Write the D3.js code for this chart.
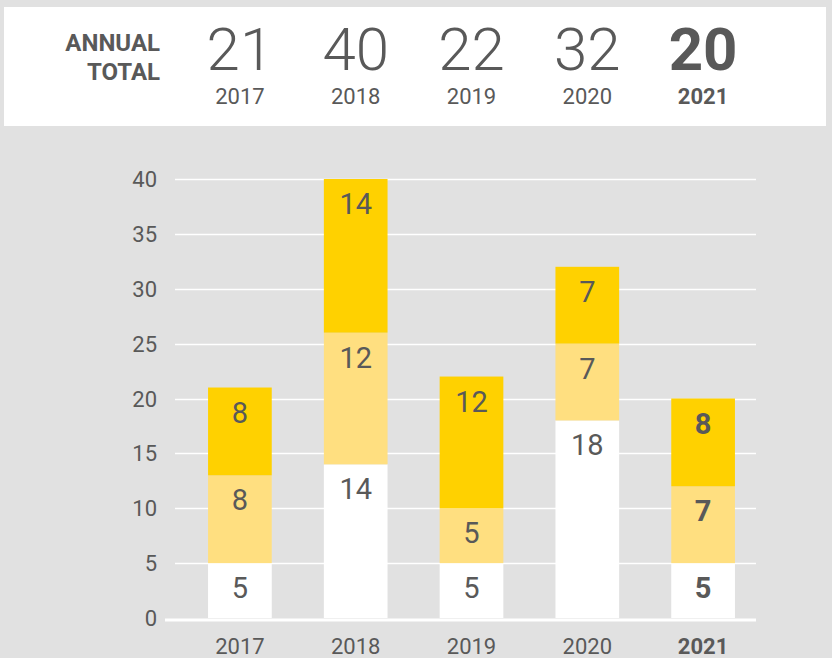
<!DOCTYPE html>
<html>
<head>
<meta charset="utf-8">
<script src="https://cdn.jsdelivr.net/npm/d3@7"></script>
<style>
  body { margin: 0; background: #e1e1e1; }
  text { font-family: Roboto, "Liberation Sans", sans-serif; fill: #595959; }
</style>
</head>
<body>
<script>
var years = ["2017", "2018", "2019", "2020", "2021"];
var bottomVals = [5, 14, 5, 18, 5];
var middleVals = [8, 12, 5, 7, 7];
var topVals = [8, 14, 12, 7, 8];
var yTicks = [0, 5, 10, 15, 20, 25, 30, 35, 40];
var highlightYear = "2021";

var svg = d3.select("body").append("svg")
  .attr("width", 832)
  .attr("height", 658);

svg.append("rect")
  .attr("width", 832).attr("height", 658)
  .attr("fill", "#e1e1e1");

// header box
svg.append("rect")
  .attr("x", 4).attr("y", 7)
  .attr("width", 822).attr("height", 119)
  .attr("fill", "#fff");

var x = d3.scaleBand().domain(years).range([182, 761])
  .paddingInner(0.45).paddingOuter(0.225);
var y = d3.scaleLinear().domain([0, 40]).range([618, 179]);

var rows = years.map(function(yr, i) {
  return { year: yr, bottom: bottomVals[i], middle: middleVals[i], top: topVals[i] };
});
var totals = rows.map(function(d) { return d.bottom + d.middle + d.top; });

function weight(d) { return d === highlightYear ? "bold" : "normal"; }

svg.append("text")
  .attr("x", 160).attr("y", 51)
  .attr("text-anchor", "end")
  .style("font-size", "24px").style("font-weight", "bold")
  .text("ANNUAL");
svg.append("text")
  .attr("x", 160).attr("y", 80)
  .attr("text-anchor", "end")
  .style("font-size", "24px").style("font-weight", "bold")
  .text("TOTAL");

var head = svg.append("g");
head.selectAll(".tot").data(years).enter().append("text")
  .attr("x", function(d) { return x(d) + x.bandwidth() / 2; })
  .attr("y", 70)
  .attr("text-anchor", "middle")
  .style("font-size", "60px")
  .style("font-weight", function(d) { return d === highlightYear ? "bold" : 300; })
  .text(function(d, i) { return totals[i]; });
head.selectAll(".yr").data(years).enter().append("text")
  .attr("x", function(d) { return x(d) + x.bandwidth() / 2; })
  .attr("y", 104)
  .attr("text-anchor", "middle")
  .style("font-size", "22px")
  .style("font-weight", weight)
  .text(function(d) { return d; });

// grid
svg.append("g").selectAll("line").data(yTicks.slice(1)).enter().append("line")
  .attr("x1", 175).attr("x2", 756)
  .attr("y1", function(d) { return Math.round(y(d)) + 0.5; })
  .attr("y2", function(d) { return Math.round(y(d)) + 0.5; })
  .attr("stroke", "#fff").attr("stroke-width", 1.5);

svg.append("g").selectAll("text").data(yTicks).enter().append("text")
  .attr("x", 157)
  .attr("y", function(d) { return y(d) + 8; })
  .attr("text-anchor", "end")
  .style("font-size", "22px")
  .text(function(d) { return d; });

var keys = ["bottom", "middle", "top"];
var colors = { bottom: "#ffffff", middle: "#ffdf80", top: "#ffd100" };
var stack = d3.stack().keys(keys)(rows);

var layers = svg.append("g").selectAll("g").data(stack).enter().append("g")
  .attr("fill", function(s) { return colors[s.key]; });

layers.selectAll("rect").data(function(s) { return s; }).enter().append("rect")
  .attr("x", function(d) { return x(d.data.year); })
  .attr("width", x.bandwidth())
  .attr("y", function(d) { return y(d[1]); })
  .attr("height", function(d) { return y(d[0]) - y(d[1]); });

layers.selectAll("text").data(function(s) { return s; }).enter().append("text")
  .attr("x", function(d) { return x(d.data.year) + x.bandwidth() / 2; })
  .attr("y", function(d) { return y(d[1]) + 35; })
  .attr("text-anchor", "middle")
  .style("font-size", "29px")
  .style("font-weight", function(d) { return weight(d.data.year); })
  .text(function(d) { return d[1] - d[0]; });

// baseline
svg.append("line")
  .attr("x1", 165).attr("x2", 756)
  .attr("y1", 620).attr("y2", 620)
  .attr("stroke", "#fff").attr("stroke-width", 3);

svg.append("g").selectAll("text").data(years).enter().append("text")
  .attr("x", function(d) { return x(d) + x.bandwidth() / 2; })
  .attr("y", 654)
  .attr("text-anchor", "middle")
  .style("font-size", "22px")
  .style("font-weight", weight)
  .text(function(d) { return d; });
</script>
</body>
</html>
